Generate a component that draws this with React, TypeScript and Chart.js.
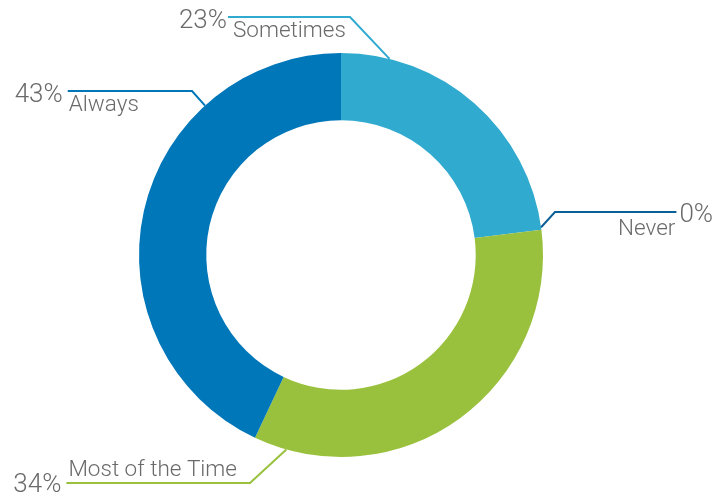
import React, { useEffect, useRef } from "react";
import { Chart, registerables } from "chart.js";

Chart.register(...registerables);

const categories = ["Sometimes", "Never", "Most of the Time", "Always"];
const percentages = [23, 0, 34, 43];
const sliceColors = ["#30aacf", "#0b5f97", "#99c13d", "#0077b9"];

// leader-line geometry (angles in degrees clockwise from top; offsets relative to centre, at radius 202)
const leaderAngles = [13.9, 82.1, 195.7, -42.3];
const leaderElbows: [number, number][] = [[9, -238], [214, -43], [-91, 228], [-149, -164]];
const leaderEndX = [-113, 335.4, -274.6, -273.3];
const labelSide = ["left", "right", "left", "left"]; // side where the percentage sits
const labelBelow = [true, true, false, true];
const pctGap = [1, 3, 5, 5];
const labelGap = [5, 1, 2, 1];

const FONT = "Roboto";
const TEXT_COLOR = "#6a6a6a";

const leaderPlugin = {
  id: "leaderLabels",
  afterDatasetsDraw(chart: any) {
    const meta = chart.getDatasetMeta(0);
    const arc0 = meta.data[0];
    if (!arc0) return;
    const cx = arc0.x;
    const cy = arc0.y;
    const R = arc0.outerRadius;
    const s = R / 202;
    const ctx = chart.ctx;
    ctx.save();
    for (let i = 0; i < categories.length; i++) {
      const a = (leaderAngles[i] * Math.PI) / 180;
      const ax = cx + R * Math.sin(a);
      const ay = cy - R * Math.cos(a);
      const ex = cx + leaderElbows[i][0] * s;
      const ey = cy + leaderElbows[i][1] * s;
      const endX = cx + leaderEndX[i] * s;
      ctx.strokeStyle = sliceColors[i];
      ctx.lineWidth = 2;
      ctx.beginPath();
      ctx.moveTo(ax, ay);
      ctx.lineTo(ex, ey);
      ctx.lineTo(endX, ey);
      ctx.stroke();

      ctx.fillStyle = TEXT_COLOR;
      ctx.textBaseline = "alphabetic";
      // percentage
      ctx.font = `300 26px ${FONT}`;
      const pct = `${percentages[i]}%`;
      if (labelSide[i] === "left") {
        ctx.textAlign = "right";
        ctx.fillText(pct, endX - pctGap[i], ey + (labelBelow[i] ? 11 : 9));
      } else {
        ctx.textAlign = "left";
        ctx.fillText(pct, endX + pctGap[i], ey + 10);
      }
      // category label
      ctx.font = `300 22.5px ${FONT}`;
      if (labelSide[i] === "left") {
        ctx.textAlign = "left";
        ctx.fillText(categories[i], endX + labelGap[i], labelBelow[i] ? ey + 20 : ey - 7);
      } else {
        ctx.textAlign = "right";
        ctx.fillText(categories[i], endX - labelGap[i], ey + 23);
      }
    }
    ctx.restore();
  },
};

export default function App() {
  const ref = useRef<HTMLCanvasElement>(null);
  useEffect(() => {
    document.body.style.margin = "0";
    const chart = new Chart(ref.current!, {
      type: "doughnut",
      data: {
        labels: categories,
        datasets: [
          {
            data: percentages,
            backgroundColor: sliceColors,
            borderWidth: 0,
          },
        ],
      },
      options: {
        animation: false,
        responsive: false,
        devicePixelRatio: 1,
        cutout: "66.7%",
        layout: { padding: { top: 53, bottom: 36, left: 139, right: 182 } },
        plugins: { legend: { display: false }, tooltip: { enabled: false } },
      },
      plugins: [leaderPlugin],
    });
    return () => chart.destroy();
  }, []);
  return (
    <div style={{ width: 725, height: 493, background: "#fff" }}>
      <canvas ref={ref} width={725} height={493} />
    </div>
  );
}
